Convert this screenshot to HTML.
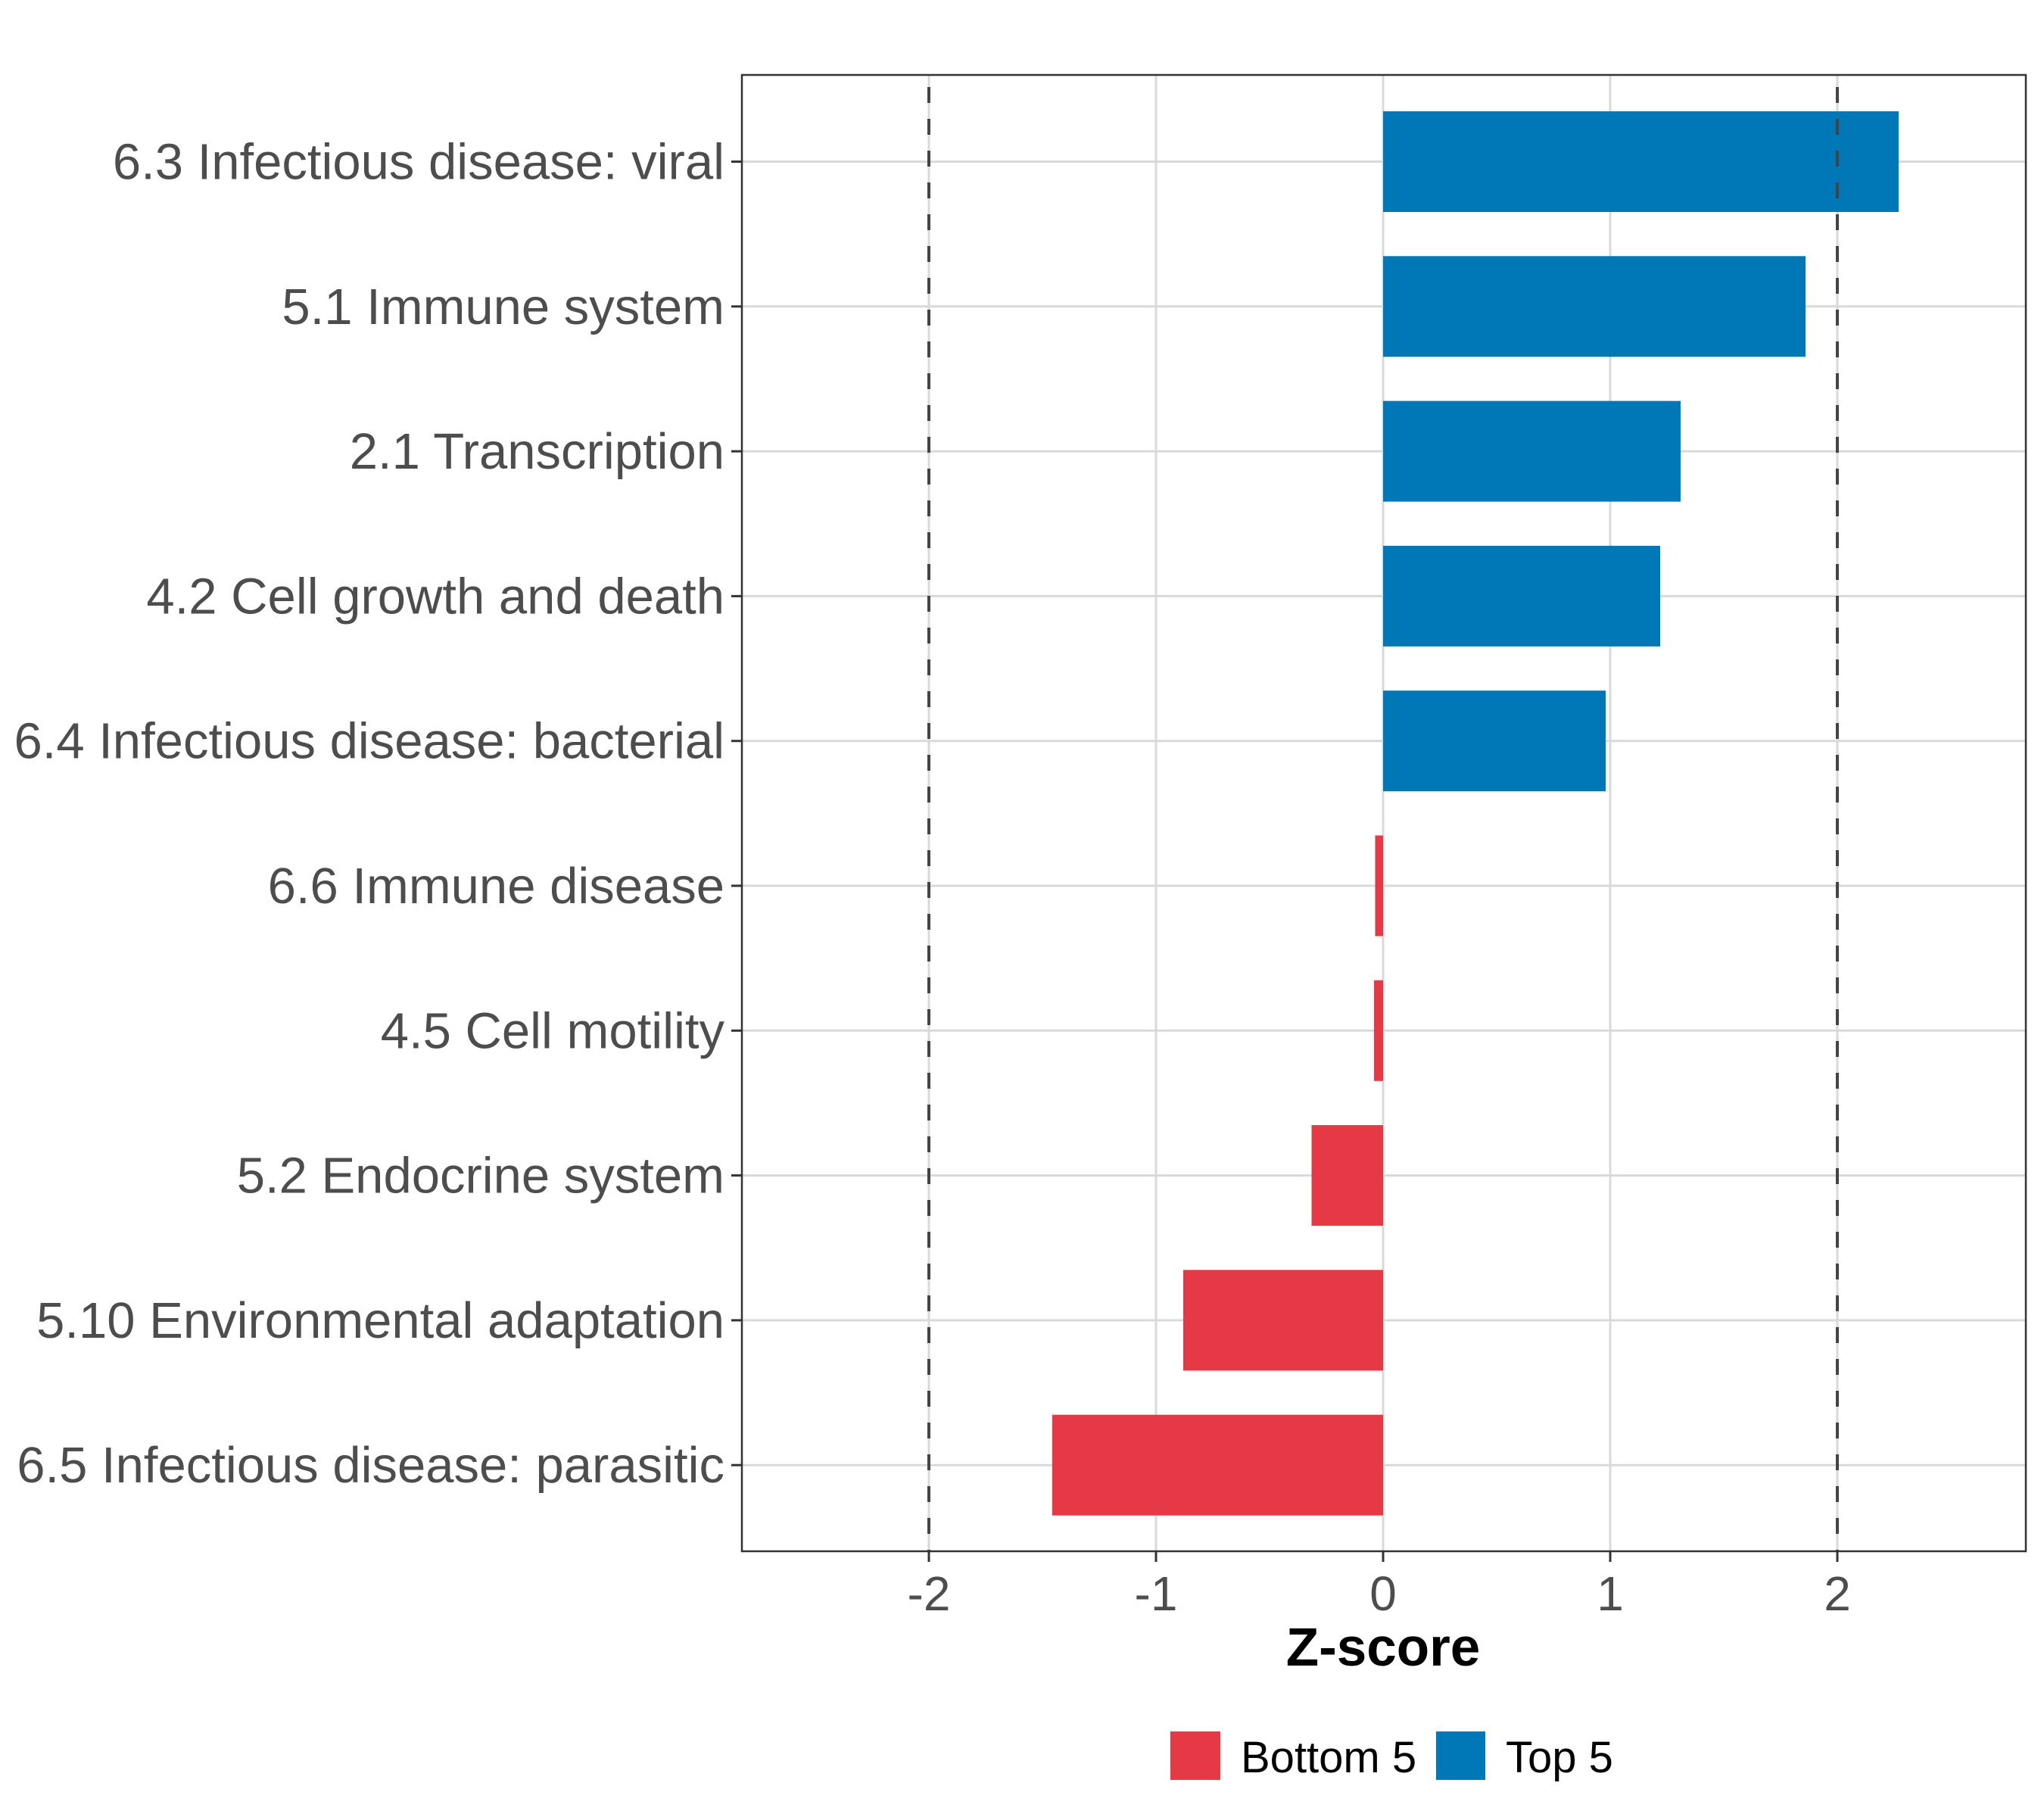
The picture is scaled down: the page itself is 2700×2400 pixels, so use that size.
<!DOCTYPE html>
<html><head><meta charset="utf-8"><style>
html,body{margin:0;padding:0;background:#fff;}
svg{display:block;font-family:"Liberation Sans",Arial,sans-serif;}
</style></head><body>
<svg id="chart" width="2700" height="2400" viewBox="0 0 2700 2400" xmlns="http://www.w3.org/2000/svg">
<rect width="2700" height="2400" fill="#fff"/>
<g id="grid"></g>
<g id="bars"></g>
<g id="refs"></g>
<rect x="980" y="99" width="1696" height="1950" fill="none" stroke="#333" stroke-width="2.5"/>
<g id="yaxis"></g>
<g id="xaxis"></g>
<text x="1827" y="2200" text-anchor="middle" font-size="71" font-weight="bold" fill="#000">Z-score</text>
<g>
<rect x="1546" y="2287" width="66" height="64" fill="#E63946"/>
<text x="1639" y="2341" font-size="58" fill="#000">Bottom 5</text>
<rect x="1897" y="2287" width="65" height="64" fill="#0077B6"/>
<text x="1989" y="2341" font-size="58" fill="#000">Top 5</text>
</g>
</svg>
<script>
const categories = ["6.3 Infectious disease: viral","5.1 Immune system","2.1 Transcription","4.2 Cell growth and death","6.4 Infectious disease: bacterial","6.6 Immune disease","4.5 Cell motility","5.2 Endocrine system","5.10 Environmental adaptation","6.5 Infectious disease: parasitic"];
const zscores = [2.27, 1.86, 1.31, 1.22, 0.98, -0.035, -0.04, -0.315, -0.88, -1.457];
const groups = ["Top 5","Top 5","Top 5","Top 5","Top 5","Bottom 5","Bottom 5","Bottom 5","Bottom 5","Bottom 5"];
const xTicks = [-2, -1, 0, 1, 2];
const xTickLabels = ["-2","-1","0","1","2"];
const refValues = [-2, 2];

const NS = "http://www.w3.org/2000/svg";
const PL = 980, PR = 2676, PT = 99, PB = 2049;
const x = v => 1827 + v * 300;
const yc = i => 213.5 + i * 191.3;
const BH = 133;
const colors = {"Top 5":"#0077B6","Bottom 5":"#E63946"};
function mk(tag, attrs, parent){const e=document.createElementNS(NS,tag);for(const k in attrs)e.setAttribute(k,attrs[k]);parent.appendChild(e);return e;}
const grid=document.getElementById('grid'), bars=document.getElementById('bars'), refs=document.getElementById('refs'), ya=document.getElementById('yaxis'), xa=document.getElementById('xaxis');
xTicks.forEach((t,i)=>{
  const g=mk('line',{x1:x(t),x2:x(t),y1:PT,y2:PB,stroke:'#d9d9d9','stroke-width':3},grid);
  
  
  const tk=mk('line',{x1:x(t),x2:x(t),y1:PB,y2:PB+14,stroke:'#333','stroke-width':3},xa);
  
  
  const tl=mk('text',{x:x(t),y:2127,'text-anchor':'middle','font-size':64,fill:'#4d4d4d'},xa);
  tl.textContent=xTickLabels[i];
  
  
});
categories.forEach((c,i)=>{
  const g=mk('line',{x1:PL,x2:PR,y1:yc(i),y2:yc(i),stroke:'#d9d9d9','stroke-width':3},grid);
  
  
  const v=zscores[i];
  const b=mk('rect',{x:Math.min(x(0),x(v)),y:yc(i)-BH/2,width:Math.abs(x(v)-x(0)),height:BH,fill:colors[groups[i]]},bars);
  
  
  const tk=mk('line',{x1:PL-14,x2:PL,y1:yc(i),y2:yc(i),stroke:'#333','stroke-width':3},ya);
  
  
  const tl=mk('text',{x:957,y:yc(i)+23,'text-anchor':'end','font-size':67,fill:'#4d4d4d'},ya);
  tl.textContent=c;
  
  
});
refValues.forEach(v=>{
  const l=mk('line',{x1:x(v),x2:x(v),y1:PT,y2:PB,stroke:'#444','stroke-width':4,'stroke-dasharray':'21 21','stroke-dashoffset':'-16'},refs);
  
  
});
</script>
</body></html>
